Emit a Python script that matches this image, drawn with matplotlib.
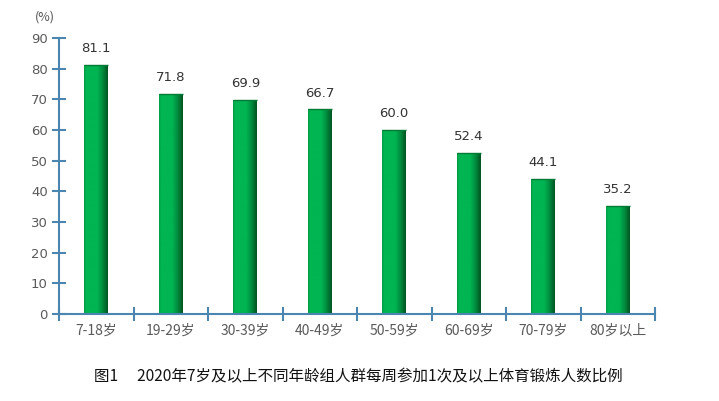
import numpy as np
import matplotlib
matplotlib.use("Agg")
import matplotlib.pyplot as plt
from matplotlib.colors import LinearSegmentedColormap

plt.rcParams['font.family'] = ['Noto Sans CJK SC', 'DejaVu Sans']

categories = ["7-18岁", "19-29岁", "30-39岁", "40-49岁", "50-59岁", "60-69岁", "70-79岁", "80岁以上"]
values = [81.1, 71.8, 69.9, 66.7, 60.0, 52.4, 44.1, 35.2]
yticks = [0, 10, 20, 30, 40, 50, 60, 70, 80, 90]
title = "图1\u3000 2020年7岁及以上不同年龄组人群每周参加1次及以上体育锻炼人数比例"

axis_color = "#4a86b0"
fig = plt.figure(figsize=(7.19, 4.01), dpi=100)
ax = fig.add_axes([59/719, 87/401, 596/719, 276/401])

n = len(categories)
x = np.arange(n)
bw = 0.32
bars = ax.bar(x, values, width=bw, color="#00b050", zorder=2)

cmap = LinearSegmentedColormap.from_list("g", [
    (0.0, "#009a45"), (0.08, "#00b552"), (0.55, "#00b552"),
    (0.78, "#008c3e"), (1.0, "#005522")])
grad = np.linspace(0, 1, 64).reshape(1, -1)
for b in bars:
    x0, w, h = b.get_x(), b.get_width(), b.get_height()
    im = ax.imshow(grad, cmap=cmap, aspect='auto', extent=[x0, x0 + w, 0, h], zorder=3)
    im.set_clip_path(b)
    b.set_facecolor("none")
    ax.plot([x0, x0 + w], [h, h], color="#007a35", lw=1, zorder=4, solid_capstyle='butt')

for xi, v in zip(x, values):
    ax.text(xi, v + 3.2, f"{v:.1f}", ha='center', va='bottom', fontsize=9.5,
            color="#333333", family=['DejaVu Sans'])

ax.set_xlim(-0.5, n - 0.5)
ax.set_ylim(0, 90)
for s in ['top', 'right']:
    ax.spines[s].set_visible(False)
for s in ['left', 'bottom']:
    ax.spines[s].set_color(axis_color)
    ax.spines[s].set_linewidth(1.5)
    ax.spines[s].set_zorder(5)

ax.set_yticks(yticks)
ax.set_yticklabels([str(t) for t in yticks], fontsize=9.5, color="#5a5a5a", family=['DejaVu Sans'])
ax.tick_params(axis='y', direction='inout', length=10, width=1.5, color=axis_color, pad=3)

ax.set_xticks(np.arange(-0.5, n, 1.0))
ax.set_xticklabels([""] * (n + 1))
ax.tick_params(axis='x', direction='inout', length=10, width=1.5, color=axis_color)
for xi, c in zip(x, categories):
    ax.text(xi, -3.3, c, ha='center', va='top', fontsize=10, color="#5a5a5a")

fig.text(45/719, 1 - 17/401, "(%)", ha='center', va='center', fontsize=9, color="#555555")
fig.text(358/719, 1 - 377/401, title, ha='center', va='center', fontsize=11.2, color="#111111")

fig.savefig("out.png", dpi=100)
